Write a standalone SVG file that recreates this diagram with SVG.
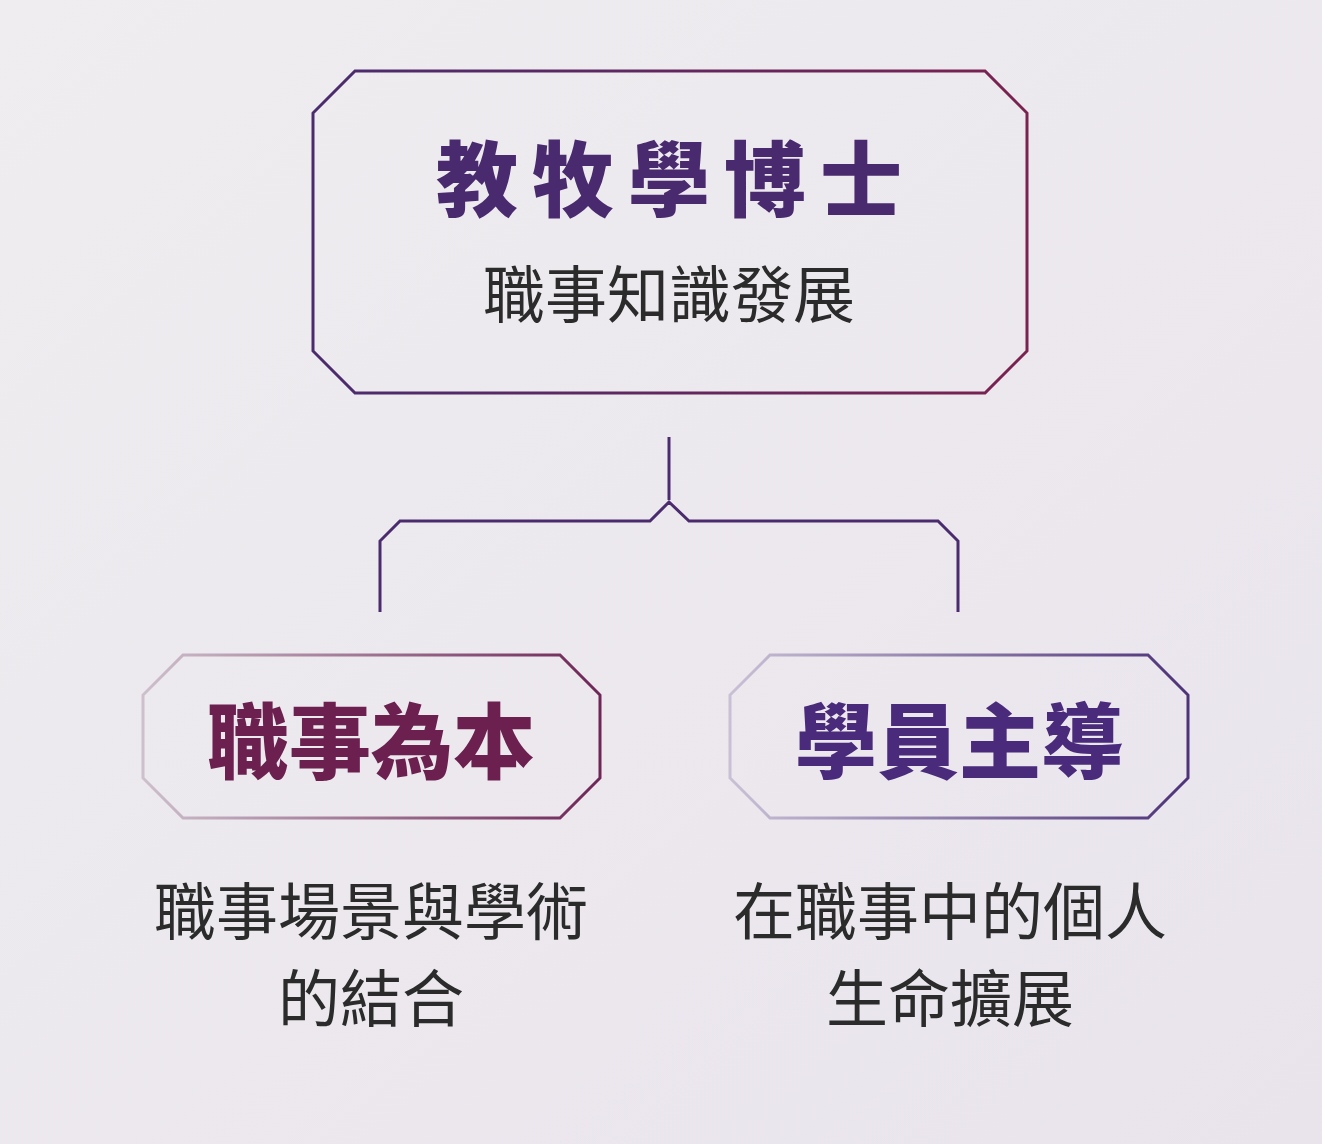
<svg xmlns="http://www.w3.org/2000/svg" width="1322" height="1144" viewBox="0 0 1322 1144">
<defs>
<linearGradient id="bg" x1="0" y1="0" x2="1" y2="1"><stop offset="0" stop-color="#efedf0"/><stop offset="1" stop-color="#e9e4ec"/></linearGradient>
<linearGradient id="gTop" x1="0" y1="0" x2="1" y2="0"><stop offset="0" stop-color="#4a2c6e"/><stop offset="1" stop-color="#7a2250"/></linearGradient>
<linearGradient id="gL" x1="0" y1="0" x2="1" y2="0"><stop offset="0" stop-color="#cdbfcc"/><stop offset="1" stop-color="#6e2656"/></linearGradient>
<linearGradient id="gR" x1="0" y1="0" x2="1" y2="0"><stop offset="0" stop-color="#c9c0d6"/><stop offset="1" stop-color="#4d3378"/></linearGradient>
<style>
.box{fill:none;stroke-width:3}
.ttl{font-family:"Noto Sans CJK TC","Noto Sans CJK SC",serif;font-weight:900;text-anchor:middle}
.sub{font-family:"Noto Sans CJK TC","Noto Sans CJK SC",sans-serif;font-size:62px;fill:#2b2b2b;text-anchor:middle}
</style>
</defs>
<rect width="1322" height="1144" fill="url(#bg)"/>
<g id="top">
<polygon class="box" stroke="url(#gTop)" points="355,71 985,71 1027,113 1027,351 985,393 355,393 313,351 313,113"/>
<text class="ttl" x="676" y="210" font-size="82" fill="#4a2a6e" letter-spacing="14">教牧學博士</text>
<text class="sub" x="669" y="318">職事知識發展</text>
</g>
<g id="connectors" fill="none" stroke="#4a2c6e" stroke-width="3">
<path d="M669,437 V500"/>
<path d="M380,612 V541 L400,521 H650 L669,502 L689,521 H938 L958,541 V612"/>
</g>
<g id="left">
<polygon class="box" stroke="url(#gL)" points="183,655 560,655 600,695 600,778 560,818 183,818 143,778 143,695"/>
<text class="ttl" x="371" y="772" font-size="82" fill="#6b2050">職事為本</text>
<text class="sub" x="371" y="935">職事場景與學術</text>
<text class="sub" x="371" y="1022">的結合</text>
</g>
<g id="right">
<polygon class="box" stroke="url(#gR)" points="770,655 1148,655 1188,695 1188,778 1148,818 770,818 730,778 730,695"/>
<text class="ttl" x="959" y="772" font-size="82" fill="#4a2a7a">學員主導</text>
<text class="sub" x="950" y="935">在職事中的個人</text>
<text class="sub" x="950" y="1022">生命擴展</text>
</g>
</svg>
